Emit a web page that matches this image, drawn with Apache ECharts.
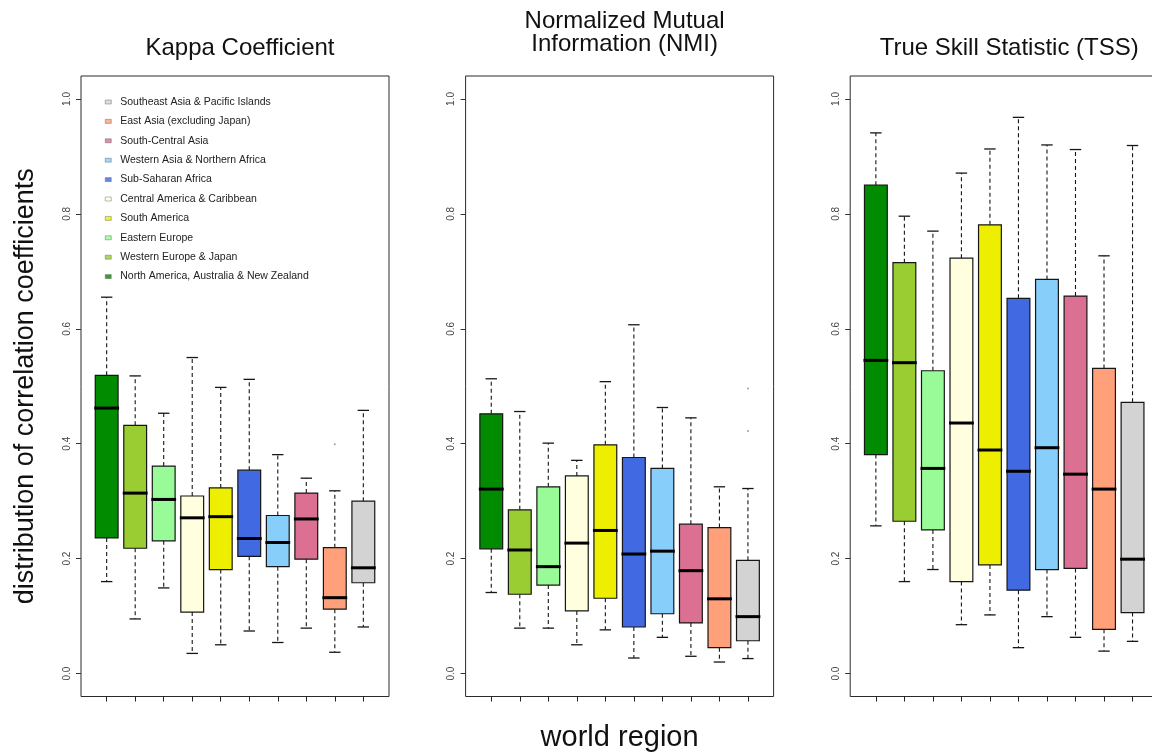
<!DOCTYPE html>
<html>
<head>
<meta charset="utf-8">
<script src="https://cdn.jsdelivr.net/npm/echarts@6/dist/echarts.min.js"></script>
<style>
  html, body { margin: 0; padding: 0; background: #ffffff; }
  #chart { width: 1152px; height: 753px; }
</style>
</head>
<body>
<div id="chart"></div>
<script>
// World regions in box order (left to right within every panel)
const regions = [
  'North America, Australia & New Zealand',
  'Western Europe & Japan',
  'Eastern Europe',
  'Central America & Caribbean',
  'South America',
  'Sub-Saharan Africa',
  'Western Asia & Northern Africa',
  'South-Central Asia',
  'East Asia (excluding Japan)',
  'Southeast Asia & Pacific Islands'
];
const regionColors = [
  '#008b00', '#9acd32', '#98fb98', '#ffffe0', '#eeee00',
  '#4169e1', '#87cefa', '#db7093', '#ffa07a', '#d3d3d3'
];
// Order of the entries in the key (top to bottom)
const legendOrder = [
  'Southeast Asia & Pacific Islands',
  'East Asia (excluding Japan)',
  'South-Central Asia',
  'Western Asia & Northern Africa',
  'Sub-Saharan Africa',
  'Central America & Caribbean',
  'South America',
  'Eastern Europe',
  'Western Europe & Japan',
  'North America, Australia & New Zealand'
];

const panelTitles = ['Kappa Coefficient', 'Normalized Mutual\nInformation (NMI)', 'True Skill Statistic (TSS)'];
const yTicks = [0, 0.2, 0.4, 0.6, 0.8, 1.0];
const yAxisTitle = 'distribution of correlation coefficients';
const xAxisTitle = 'world region';

// Five-number summaries per region: [lower whisker, Q1, median, Q3, upper whisker]
const kappaStats = [
  [0.160, 0.236, 0.462, 0.519, 0.655],
  [0.095, 0.218, 0.314, 0.432, 0.518],
  [0.149, 0.231, 0.303, 0.361, 0.453],
  [0.035, 0.107, 0.271, 0.309, 0.550],
  [0.050, 0.181, 0.273, 0.323, 0.498],
  [0.074, 0.204, 0.235, 0.354, 0.512],
  [0.054, 0.186, 0.228, 0.275, 0.381],
  [0.079, 0.199, 0.269, 0.314, 0.340],
  [0.037, 0.112, 0.132, 0.219, 0.318],
  [0.081, 0.158, 0.184, 0.300, 0.458]
];
const nmiStats = [
  [0.141, 0.217, 0.321, 0.452, 0.513],
  [0.079, 0.138, 0.215, 0.285, 0.456],
  [0.079, 0.154, 0.186, 0.325, 0.401],
  [0.050, 0.109, 0.227, 0.344, 0.371],
  [0.076, 0.131, 0.249, 0.398, 0.508],
  [0.027, 0.081, 0.208, 0.376, 0.607],
  [0.063, 0.104, 0.213, 0.357, 0.463],
  [0.030, 0.088, 0.179, 0.260, 0.445],
  [0.020, 0.045, 0.130, 0.254, 0.325],
  [0.026, 0.057, 0.099, 0.197, 0.322]
];
const tssStats = [
  [0.257, 0.381, 0.545, 0.850, 0.941],
  [0.160, 0.265, 0.541, 0.715, 0.796],
  [0.181, 0.250, 0.357, 0.527, 0.770],
  [0.085, 0.160, 0.436, 0.723, 0.871],
  [0.102, 0.189, 0.389, 0.781, 0.913],
  [0.045, 0.145, 0.352, 0.653, 0.968],
  [0.099, 0.181, 0.393, 0.686, 0.920],
  [0.063, 0.183, 0.347, 0.657, 0.912],
  [0.039, 0.077, 0.321, 0.531, 0.727],
  [0.056, 0.106, 0.199, 0.472, 0.919]
];
// Outlying values: [region index, value]
const kappaOutliers = [[8, 0.399]];
const nmiOutliers = [[9, 0.496], [9, 0.422]];
const tssOutliers = [];

const panels = [
  { stats: kappaStats, outliers: kappaOutliers },
  { stats: nmiStats, outliers: nmiOutliers },
  { stats: tssStats, outliers: tssOutliers }
];

// ---- layout ----
const FONT = '"Liberation Sans", Arial, Helvetica, sans-serif';
const INK = '#161616';
const panelLeft = [81, 465.6, 850.2];
const frameTop = 76;
const frameH = 620.5;
const frameW = 308;
const band = frameW / 10.8;           // one box slot; the frame adds 0.4 slot at each side
const yMin = -0.04, yMax = 1.04;
const titleTops = [32, 5, 32];

function boxRenderer(params, api) {
  const i = api.value(0);
  const v = [api.value(1), api.value(2), api.value(3), api.value(4), api.value(5)];
  const cx = api.coord([i, 0])[0];
  const y = (val) => api.coord([i, val])[1];
  const w = api.size([1, 0])[0] * 0.8;
  const cap = w * 0.5;
  const dash = { stroke: INK, lineWidth: 1.1, lineDash: [4, 3] };
  const solid = { stroke: INK, lineWidth: 1.3 };
  return {
    type: 'group',
    children: [
      { type: 'line', shape: { x1: cx, y1: y(v[3]), x2: cx, y2: y(v[4]) }, style: dash },
      { type: 'line', shape: { x1: cx, y1: y(v[1]), x2: cx, y2: y(v[0]) }, style: dash },
      { type: 'line', shape: { x1: cx - cap / 2, y1: y(v[4]), x2: cx + cap / 2, y2: y(v[4]) }, style: solid },
      { type: 'line', shape: { x1: cx - cap / 2, y1: y(v[0]), x2: cx + cap / 2, y2: y(v[0]) }, style: solid },
      { type: 'rect', shape: { x: cx - w / 2, y: y(v[3]), width: w, height: y(v[1]) - y(v[3]) },
        style: { fill: regionColors[i], stroke: INK, lineWidth: 1.2 } },
      { type: 'line', shape: { x1: cx - w / 2 - 1, y1: y(v[2]), x2: cx + w / 2 + 1, y2: y(v[2]) },
        style: { stroke: '#000', lineWidth: 3 } }
    ]
  };
}

const grid = [], xAxis = [], yAxis = [], series = [], title = [];

panels.forEach((panel, p) => {
  const left = panelLeft[p];
  // frame grid (carries the y axis)
  grid.push({ left: left, top: frameTop, width: frameW, height: frameH, show: true,
              outerBoundsMode: 'none', containLabel: false,
              borderColor: '#2a2a2a', borderWidth: 1, backgroundColor: 'transparent' });
  // box grid (category slots)
  grid.push({ left: left + 0.4 * band, top: frameTop, width: 10 * band, height: frameH,
              outerBoundsMode: 'none', containLabel: false });

  xAxis.push({ gridIndex: 2 * p, type: 'value', min: 0, max: 1, show: false });
  xAxis.push({
    gridIndex: 2 * p + 1, type: 'category', data: regions, boundaryGap: true, position: 'bottom',
    axisLine: { show: false, onZero: false },
    axisTick: { show: true, alignWithLabel: true, interval: 0, length: 5, lineStyle: { color: '#222', width: 1 } },
    axisLabel: { show: false, interval: 0 },
    splitLine: { show: false },
    name: p === 1 ? xAxisTitle : '',
    nameLocation: 'middle', nameGap: 27,
    nameTextStyle: { fontSize: 29, color: '#111', fontFamily: FONT }
  });

  yAxis.push({
    gridIndex: 2 * p, type: 'value', min: yMin, max: yMax,
    axisLine: { show: false },
    axisTick: { show: true, customValues: yTicks, length: 5, lineStyle: { color: '#333', width: 1 } },
    axisLabel: { show: true, customValues: yTicks, rotate: 90, margin: 9, fontSize: 10,
                 color: '#444', fontFamily: FONT, formatter: (val) => val.toFixed(1) },
    splitLine: { show: false },
    name: p === 0 ? yAxisTitle : '',
    nameLocation: 'middle', nameRotate: 90, nameGap: 42,
    nameTextStyle: { fontSize: 27, color: '#111', fontFamily: FONT }
  });
  yAxis.push({ gridIndex: 2 * p + 1, type: 'value', min: yMin, max: yMax, show: false });

  series.push({
    type: 'custom',
    xAxisIndex: 2 * p + 1, yAxisIndex: 2 * p + 1,
    data: panel.stats.map((s, i) => [i].concat(s)),
    encode: { x: 0, y: [1, 2, 3, 4, 5] },
    renderItem: boxRenderer,
    silent: true
  });
  if (panel.outliers.length) {
    series.push({
      type: 'scatter', xAxisIndex: 2 * p + 1, yAxisIndex: 2 * p + 1,
      data: panel.outliers, symbol: 'circle', symbolSize: 2,
      itemStyle: { color: '#8a8a8a' }, silent: true
    });
  }

  title.push({
    text: panelTitles[p], left: left + frameW / 2, top: titleTops[p], textAlign: 'center',
    textStyle: { fontSize: 24, fontWeight: 'normal', color: '#111', fontFamily: FONT, lineHeight: 23 }
  });
});

// key entries for the regions (drawn by the legend component)
regions.forEach((name, i) => {
  series.push({
    type: 'scatter', name: name, data: [], xAxisIndex: 0, yAxisIndex: 0,
    itemStyle: { color: regionColors[i], borderWidth: 0 }
  });
});

const chart = echarts.init(document.getElementById('chart'), null, { renderer: 'canvas' });
chart.setOption({
  backgroundColor: '#ffffff',
  animation: false,
  title: title,
  legend: {
    data: legendOrder, orient: 'vertical', left: 101, top: 92, padding: 4,
    icon: 'rect', itemWidth: 6, itemHeight: 4, itemGap: 7.4, selectedMode: false,
    itemStyle: { borderWidth: 0.5, borderColor: '#555' },
    textStyle: { fontSize: 10.5, color: '#222', fontFamily: FONT, lineHeight: 12, padding: [0, 0, 0, 4] }
  },
  grid: grid,
  xAxis: xAxis,
  yAxis: yAxis,
  series: series
});
</script>
</body>
</html>
